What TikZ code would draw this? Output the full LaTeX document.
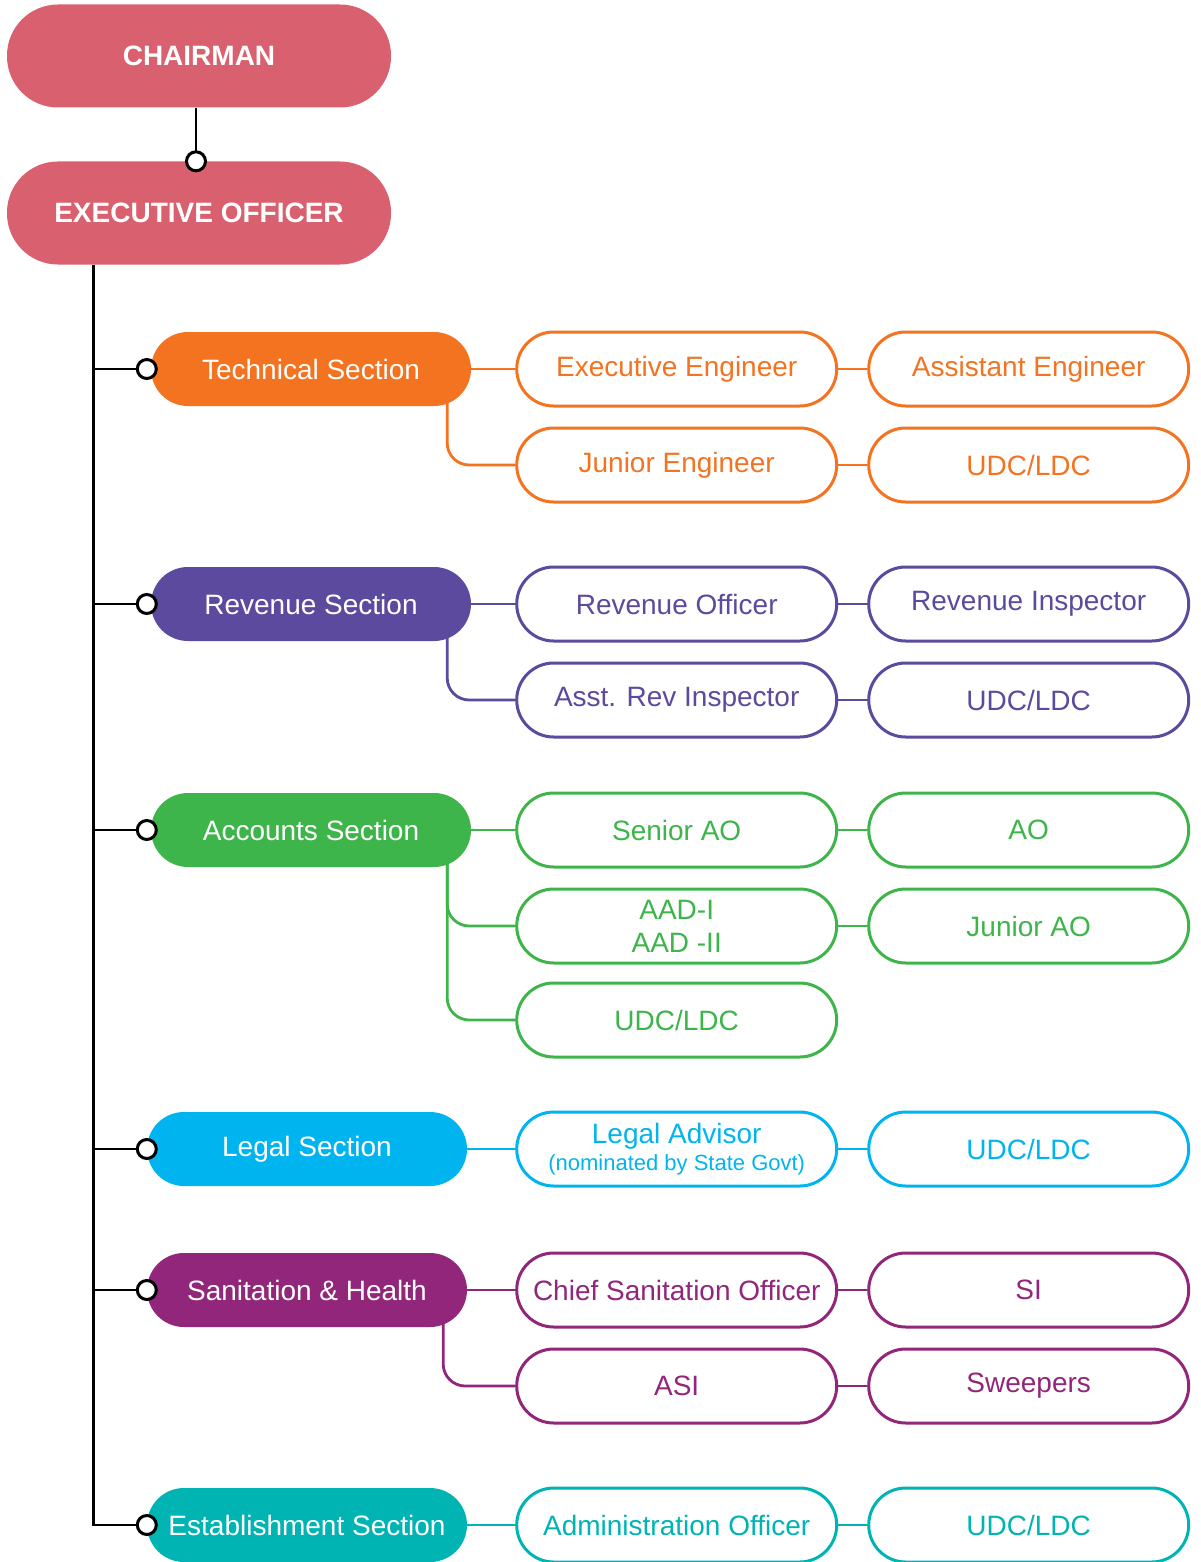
\documentclass[tikz,border=0pt]{standalone}
\usepackage{fontspec}
\setmainfont{Liberation Sans}
\usetikzlibrary{positioning}
\definecolor{headred}{HTML}{D9606E}
\definecolor{techorange}{HTML}{F47321}
\definecolor{revpurple}{HTML}{5C4A9E}
\definecolor{accgreen}{HTML}{3DB54A}
\definecolor{legalcyan}{HTML}{00B5EF}
\definecolor{sanmagenta}{HTML}{91267A}
\definecolor{estteal}{HTML}{00B4B4}
\tikzset{
  pill/.style = {rectangle, rounded corners=37pt, minimum width=320pt, minimum height=74pt, align=center, inner sep=0pt, font=\fontsize{28}{32}\selectfont},
  headbox/.style = {pill, fill=headred, text=white, minimum width=384pt, minimum height=103pt, rounded corners=51pt, font=\fontsize{28}{32}\selectfont\bfseries},
  secbox/.style = {pill, fill=#1, text=white},
  postbox/.style = {pill, draw=#1, line width=3pt, text=#1, fill=white},
  knob/.style = {circle, draw=black, fill=white, line width=3pt, inner sep=0pt, minimum size=19pt},
  link/.style = {line width=2.8pt, draw=#1},
  branch/.style = {link=#1, rounded corners=22pt},
}
\begin{document}
\begin{tikzpicture}[x=1pt, y=-1pt]
\useasboundingbox (0,0) rectangle (1200,1562);
% top of the chart
\node [headbox] (ch) at (199,56) {CHAIRMAN};
\node [headbox] (eo) at (199,213) {EXECUTIVE OFFICER};
% sections
\node [secbox=techorange] (tech) at (311,369) {Technical Section};
\node [secbox=revpurple]  (rev)  at (311,604) {Revenue Section};
\node [secbox=accgreen]   (acc)  at (311,830) {Accounts Section};
\node [secbox=legalcyan]  (leg)  at (307,1149) {Legal Section};
\node [secbox=sanmagenta] (san)  at (307,1290) {Sanitation \& Health};
\node [secbox=estteal]    (est)  at (307,1525) {Establishment Section};
% posts
\node [postbox=techorange, right=44pt of tech] (te1) {Executive Engineer};
\node [postbox=techorange, right=29pt of te1]  (te2) {Assistant Engineer};
\node [postbox=techorange, below=19pt of te1]  (te3) {Junior Engineer};
\node [postbox=techorange, right=29pt of te3]  (te4) {UDC/LDC};
\node [postbox=revpurple, right=44pt of rev] (rv1) {Revenue Officer};
\node [postbox=revpurple, right=29pt of rv1] (rv2) {Revenue Inspector};
\node [postbox=revpurple, below=19pt of rv1] (rv3) {Asst. Rev Inspector};
\node [postbox=revpurple, right=29pt of rv3] (rv4) {UDC/LDC};
\node [postbox=accgreen, right=44pt of acc] (ac1) {Senior AO};
\node [postbox=accgreen, right=29pt of ac1] (ac2) {AO};
\node [postbox=accgreen, below=19pt of ac1, font=\fontsize{28}{33}\selectfont] (ac3) {AAD-I\\AAD -II};
\node [postbox=accgreen, right=29pt of ac3] (ac4) {Junior AO};
\node [postbox=accgreen, below=17pt of ac3] (ac5) {UDC/LDC};
\node [postbox=legalcyan, right=48pt of leg, font=\fontsize{28}{27}\selectfont] (lg1) {Legal Advisor\\{\fontsize{22}{22}\selectfont(nominated by State Govt)}};
\node [postbox=legalcyan, right=29pt of lg1] (lg2) {UDC/LDC};
\node [postbox=sanmagenta, right=48pt of san] (sn1) {Chief Sanitation Officer};
\node [postbox=sanmagenta, right=29pt of sn1] (sn2) {SI};
\node [postbox=sanmagenta, below=19pt of sn1] (sn3) {ASI};
\node [postbox=sanmagenta, right=29pt of sn3] (sn4) {Sweepers};
\node [postbox=estteal, right=48pt of est] (es1) {Administration Officer};
\node [postbox=estteal, right=29pt of es1] (es2) {UDC/LDC};
% black lines
\coordinate (trunk) at ([xshift=87pt]eo.south west);
\draw [link=black] ([xshift=-3pt]ch.south) -- ([xshift=-3pt]eo.north);
\draw [link=black] (trunk) |- (est.west);
\draw [link=black] (trunk |- tech) -- (tech.west);
\draw [link=black] (trunk |- rev) -- (rev.west);
\draw [link=black] (trunk |- acc) -- (acc.west);
\draw [link=black] (trunk |- leg) -- (leg.west);
\draw [link=black] (trunk |- san) -- (san.west);
\node [knob] (k0) at ([xshift=-3pt]eo.north) {};
\node [knob] (k1) at ([xshift=-4pt]tech.west) {};
\node [knob] (k2) at ([xshift=-4pt]rev.west) {};
\node [knob] (k3) at ([xshift=-4pt]acc.west) {};
\node [knob] (k4) at (leg.west) {};
\node [knob] (k5) at (san.west) {};
\node [knob] (k6) at (est.west) {};
% coloured lines
\draw [link=techorange] (tech.east) -- (te1.west);
\draw [link=techorange] (te1.east) -- (te2.west);
\draw [link=techorange] (te3.east) -- (te4.west);
\draw [branch=techorange] ([xshift=-24pt,yshift=4pt]tech.south east) |- (te3.west);
\draw [link=revpurple] (rev.east) -- (rv1.west);
\draw [link=revpurple] (rv1.east) -- (rv2.west);
\draw [link=revpurple] (rv3.east) -- (rv4.west);
\draw [branch=revpurple] ([xshift=-24pt,yshift=4pt]rev.south east) |- (rv3.west);
\draw [link=accgreen] (acc.east) -- (ac1.west);
\draw [link=accgreen] (ac1.east) -- (ac2.west);
\draw [link=accgreen] (ac3.east) -- (ac4.west);
\draw [branch=accgreen] ([xshift=-24pt,yshift=4pt]acc.south east) |- (ac3.west);
\draw [branch=accgreen] ([xshift=-24pt,yshift=4pt]acc.south east) |- (ac5.west);
\draw [link=legalcyan] (leg.east) -- (lg1.west);
\draw [link=legalcyan] (lg1.east) -- (lg2.west);
\draw [link=sanmagenta] (san.east) -- (sn1.west);
\draw [link=sanmagenta] (sn1.east) -- (sn2.west);
\draw [link=sanmagenta] (sn3.east) -- (sn4.west);
\draw [branch=sanmagenta] ([xshift=-24pt,yshift=4pt]san.south east) |- (sn3.west);
\draw [link=estteal] (est.east) -- (es1.west);
\draw [link=estteal] (es1.east) -- (es2.west);
\end{tikzpicture}
\end{document}
